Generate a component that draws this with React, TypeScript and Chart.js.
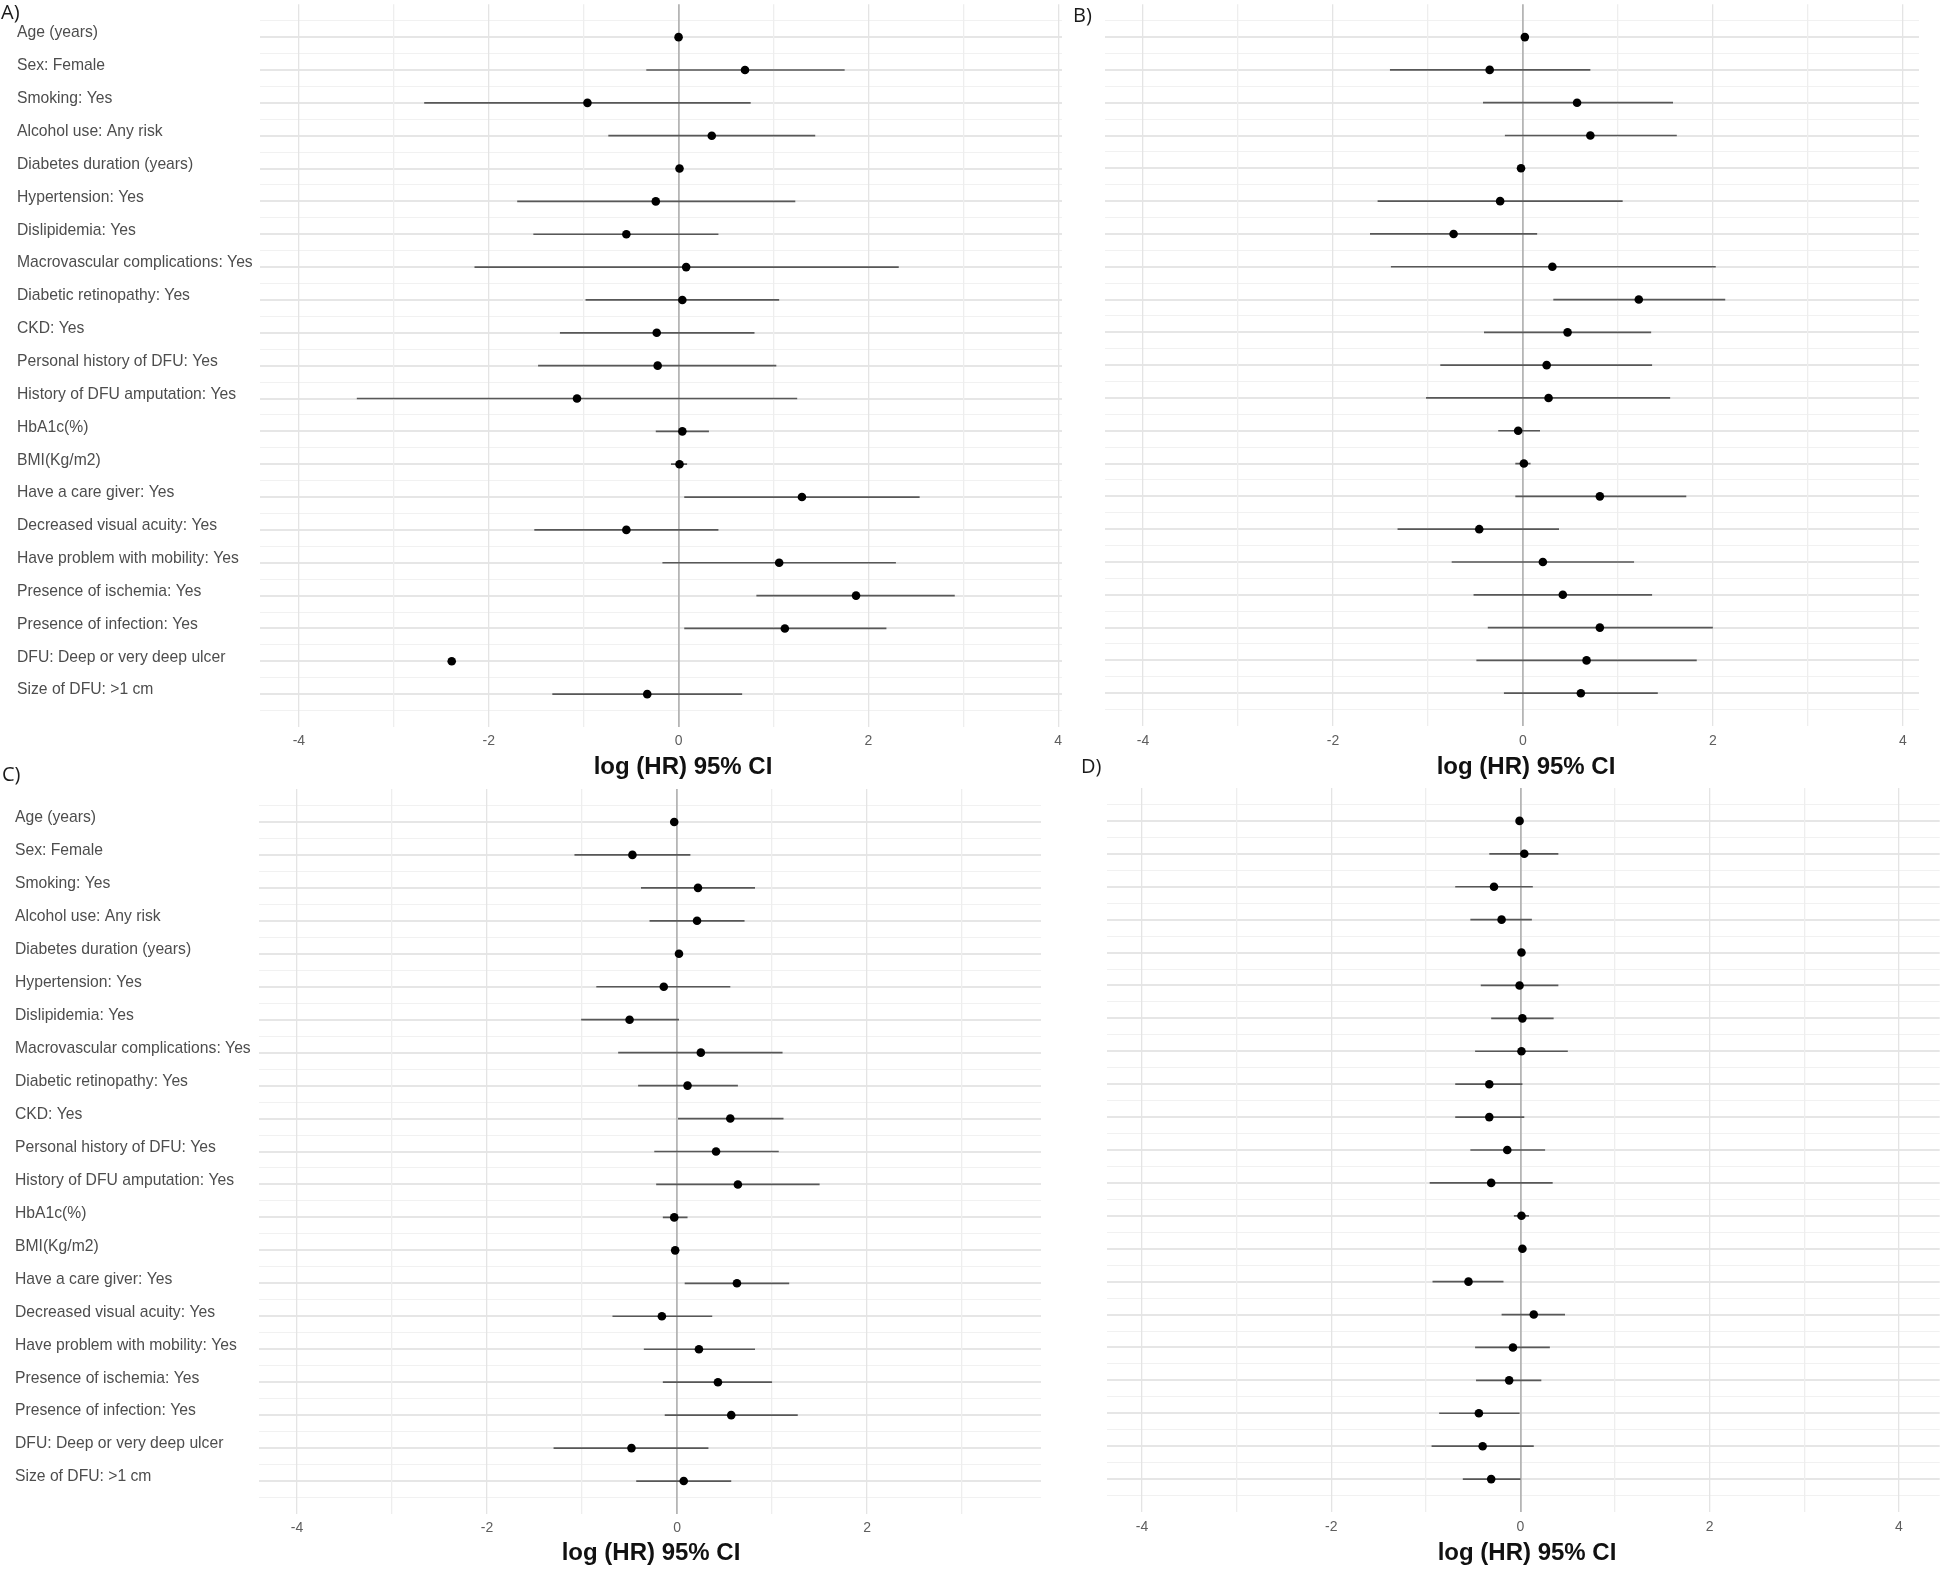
import React, { useEffect, useRef } from "react";
import { Chart, registerables } from "chart.js";

Chart.register(...registerables);

// ---------- data ----------
const variables: string[] = [
  "Age (years)",
  "Sex: Female",
  "Smoking: Yes",
  "Alcohol use: Any risk",
  "Diabetes duration (years)",
  "Hypertension: Yes",
  "Dislipidemia: Yes",
  "Macrovascular complications: Yes",
  "Diabetic retinopathy: Yes",
  "CKD: Yes",
  "Personal history of DFU: Yes",
  "History of DFU amputation: Yes",
  "HbA1c(%)",
  "BMI(Kg/m2)",
  "Have a care giver: Yes",
  "Decreased visual acuity: Yes",
  "Have problem with mobility: Yes",
  "Presence of ischemia: Yes",
  "Presence of infection: Yes",
  "DFU: Deep or very deep ulcer",
  "Size of DFU: >1 cm",
];

const panelTags: string[] = ["A)", "B)", "C)", "D)"];
const axisTitle = "log (HR) 95% CI";

// Panel A
const estA: number[] = [0.0, 0.7, -0.96, 0.35, 0.01, -0.24, -0.55, 0.08, 0.04, -0.23, -0.22, -1.07, 0.04, 0.01, 1.3, -0.55, 1.06, 1.87, 1.12, -2.39, -0.33];
const loA: (number | null)[] = [-0.03, -0.34, -2.68, -0.74, -0.02, -1.7, -1.53, -2.15, -0.98, -1.25, -1.48, -3.39, -0.24, -0.08, 0.06, -1.52, -0.17, 0.82, 0.06, null, -1.33];
const hiA: (number | null)[] = [0.03, 1.75, 0.76, 1.44, 0.03, 1.23, 0.42, 2.32, 1.06, 0.8, 1.03, 1.25, 0.32, 0.09, 2.54, 0.42, 2.29, 2.91, 2.19, null, 0.67];

// Panel B
const estB: number[] = [0.02, -0.35, 0.57, 0.71, -0.02, -0.24, -0.73, 0.31, 1.22, 0.47, 0.25, 0.27, -0.05, 0.01, 0.81, -0.46, 0.21, 0.42, 0.81, 0.67, 0.61];
const loB: (number | null)[] = [0.0, -1.4, -0.42, -0.19, -0.03, -1.53, -1.61, -1.39, 0.32, -0.41, -0.87, -1.02, -0.26, -0.08, -0.08, -1.32, -0.75, -0.52, -0.37, -0.49, -0.2];
const hiB: (number | null)[] = [0.04, 0.71, 1.58, 1.62, 0.0, 1.05, 0.15, 2.03, 2.13, 1.35, 1.36, 1.55, 0.18, 0.08, 1.72, 0.38, 1.17, 1.36, 2.0, 1.83, 1.42];

// Panel C
const estC: number[] = [-0.03, -0.47, 0.22, 0.21, 0.02, -0.14, -0.5, 0.25, 0.11, 0.56, 0.41, 0.64, -0.03, -0.02, 0.63, -0.16, 0.23, 0.43, 0.57, -0.48, 0.07];
const loC: (number | null)[] = [-0.05, -1.08, -0.38, -0.29, 0.0, -0.85, -1.01, -0.62, -0.41, 0.01, -0.24, -0.22, -0.15, -0.04, 0.08, -0.68, -0.35, -0.15, -0.13, -1.3, -0.43];
const hiC: (number | null)[] = [-0.01, 0.14, 0.82, 0.71, 0.04, 0.56, 0.02, 1.11, 0.64, 1.12, 1.07, 1.5, 0.11, 0.0, 1.18, 0.37, 0.82, 1.0, 1.27, 0.33, 0.57];

// Panel D
const estD: number[] = [-0.01, 0.04, -0.28, -0.2, 0.01, -0.01, 0.02, 0.01, -0.33, -0.33, -0.14, -0.31, 0.01, 0.02, -0.55, 0.14, -0.08, -0.12, -0.44, -0.4, -0.31];
const loD: (number | null)[] = [-0.03, -0.33, -0.69, -0.53, -0.01, -0.42, -0.31, -0.48, -0.69, -0.69, -0.53, -0.96, -0.07, 0.0, -0.93, -0.2, -0.48, -0.47, -0.86, -0.94, -0.61];
const hiD: (number | null)[] = [0.01, 0.4, 0.13, 0.12, 0.03, 0.4, 0.35, 0.5, 0.02, 0.04, 0.26, 0.34, 0.09, 0.04, -0.18, 0.47, 0.31, 0.22, -0.01, 0.14, 0.0];

// ---------- layout ----------
type PanelCfg = {
  left: number; top: number; width: number; height: number;
  padLeft: number; padRight: number; padTop: number;
  yWidth: number; xHeight: number; tickPad: number;
  titleX: number; titleY: number;
  xMin: number; xMax: number; showLabels: boolean;
  est: number[]; lo: (number | null)[]; hi: (number | null)[];
};

const panels: PanelCfg[] = [
  { left: 0, top: 0, width: 1070, height: 785, padLeft: 17, padRight: 8, padTop: 2, yWidth: 243, xHeight: 58, tickPad: 6, titleX: 683, titleY: 767, xMin: -4.41, xMax: 4.04, showLabels: true, est: estA, lo: loA, hi: hiA },
  { left: 1070, top: 0, width: 874, height: 785, padLeft: 35, padRight: 25, padTop: 3, yWidth: 0, xHeight: 59, tickPad: 7, titleX: 1526, titleY: 767, xMin: -4.4, xMax: 4.17, showLabels: false, est: estB, lo: loB, hi: hiB },
  { left: 0, top: 780, width: 1050, height: 798, padLeft: 15, padRight: 9, padTop: 9, yWidth: 244, xHeight: 64, tickPad: 6, titleX: 651, titleY: 1553, xMin: -4.4, xMax: 3.83, showLabels: true, est: estC, lo: loC, hi: hiC },
  { left: 1050, top: 780, width: 894, height: 798, padLeft: 57, padRight: 0, padTop: 8, yWidth: 0, xHeight: 66, tickPad: 7, titleX: 1527, titleY: 1553, xMin: -4.37, xMax: 4.43, showLabels: false, est: estD, lo: loD, hi: hiD },
];

const tagPos = [
  { left: 1, top: 0 },
  { left: 1073, top: 3 },
  { left: 2, top: 762 },
  { left: 1081, top: 754 },
];

const FONT = '"Liberation Sans", Arial, Helvetica, sans-serif';

function ForestPanel({ cfg }: { cfg: PanelCfg }) {
  const ref = useRef<HTMLCanvasElement>(null);
  useEffect(() => {
    const canvas = ref.current;
    if (!canvas) return;
    const barData: { x: number | null; y: number | null }[] = [];
    cfg.lo.forEach((l, i) => {
      const h = cfg.hi[i];
      if (l === null || h === null) return;
      barData.push({ x: l, y: i + 1 }, { x: h, y: i + 1 }, { x: null, y: null });
    });
    const pts = cfg.est.map((e, i) => ({ x: e, y: i + 1 }));

    const axisTitlePlugin = {
      id: "axisTitleAt",
      afterDraw(chart: any) {
        const ctx = chart.ctx;
        ctx.save();
        ctx.font = `bold 24px ${FONT}`;
        ctx.fillStyle = "#111111";
        ctx.textAlign = "center";
        ctx.textBaseline = "middle";
        ctx.fillText(axisTitle, cfg.titleX - cfg.left, cfg.titleY - cfg.top);
        ctx.restore();
      },
    };

    const chart = new Chart(canvas, {
      type: "scatter",
      data: {
        datasets: [
          {
            data: barData as any,
            showLine: true,
            spanGaps: false,
            borderColor: "#585858",
            borderWidth: 1.7,
            pointRadius: 0,
            pointHoverRadius: 0,
            order: 2,
          },
          {
            data: pts,
            showLine: false,
            pointRadius: 4.3,
            pointHoverRadius: 4.3,
            backgroundColor: "#000000",
            borderColor: "#000000",
            borderWidth: 0,
            order: 1,
          },
        ],
      },
      plugins: [axisTitlePlugin],
      options: {
        animation: false,
        responsive: false,
        devicePixelRatio: 1,
        events: [],
        layout: { padding: { left: cfg.padLeft, right: cfg.padRight, top: cfg.padTop, bottom: 0 } },
        plugins: { legend: { display: false }, tooltip: { enabled: false }, title: { display: false } },
        scales: {
          y: {
            type: "linear",
            position: "left",
            reverse: true,
            min: 0,
            max: 22,
            afterBuildTicks: (s: any) => {
              const t: { value: number }[] = [];
              for (let v = 0.5; v <= 21.5; v += 0.5) t.push({ value: v });
              s.ticks = t;
            },
            afterFit: (s: any) => {
              s.width = cfg.yWidth;
              s.paddingTop = 0;
              s.paddingBottom = 0;
            },
            border: { display: false },
            grid: {
              drawTicks: false,
              color: (c: any) => (Number.isInteger(c.tick?.value) ? "#e6e6e6" : "#f1f1f1"),
              lineWidth: (c: any) => (Number.isInteger(c.tick?.value) ? 2 : 1),
            },
            ticks: {
              display: cfg.showLabels,
              autoSkip: false,
              crossAlign: "far",
              padding: 0,
              labelOffset: -4,
              color: "#4d4d4d",
              font: { family: FONT, size: 15.7 },
              callback: (v: any) => {
                const n = Number(v);
                return Number.isInteger(n) ? variables[n - 1] ?? "" : "";
              },
            },
          },
          x: {
            type: "linear",
            position: "bottom",
            min: cfg.xMin,
            max: cfg.xMax,
            afterBuildTicks: (s: any) => {
              const t: { value: number }[] = [];
              for (let v = Math.ceil(cfg.xMin); v <= Math.floor(cfg.xMax); v++) t.push({ value: v });
              s.ticks = t;
            },
            afterFit: (s: any) => {
              s.height = cfg.xHeight;
              s.paddingLeft = 0;
              s.paddingRight = 0;
            },
            border: { display: false },
            grid: {
              drawTicks: false,
              color: (c: any) => {
                const v = c.tick?.value;
                if (v === 0) return "#b5b5b5";
                return v % 2 === 0 ? "#e4e4e4" : "#eeeeee";
              },
              lineWidth: (c: any) => (c.tick?.value === 0 ? 1.8 : 1.3),
            },
            ticks: {
              autoSkip: false,
              maxRotation: 0,
              padding: cfg.tickPad,
              color: "#5e5e5e",
              font: { family: FONT, size: 14 },
              callback: (v: any) => {
                const n = Number(v);
                return n % 2 === 0 ? String(n) : "";
              },
            },
            title: { display: false },
          },
        },
      } as any,
    });
    return () => chart.destroy();
  }, [cfg]);

  return (
    <canvas
      ref={ref}
      width={cfg.width}
      height={cfg.height}
      style={{ position: "absolute", left: cfg.left, top: cfg.top, width: cfg.width, height: cfg.height }}
    />
  );
}

export default function App() {
  return (
    <div
      style={{
        position: "absolute",
        left: 0,
        top: 0,
        width: 1944,
        height: 1578,
        background: "#ffffff",
        overflow: "hidden",
      }}
    >
      {panels.map((p, i) => (
        <ForestPanel key={i} cfg={p} />
      ))}
      {panelTags.map((t, i) => (
        <div
          key={t}
          style={{
            position: "absolute",
            left: tagPos[i].left,
            top: tagPos[i].top,
            fontFamily: '"Open Sans", "Liberation Sans", sans-serif',
            fontSize: 20,
            lineHeight: "24px",
            color: "#1a1a1a",
          }}
        >
          {t}
        </div>
      ))}
    </div>
  );
}
